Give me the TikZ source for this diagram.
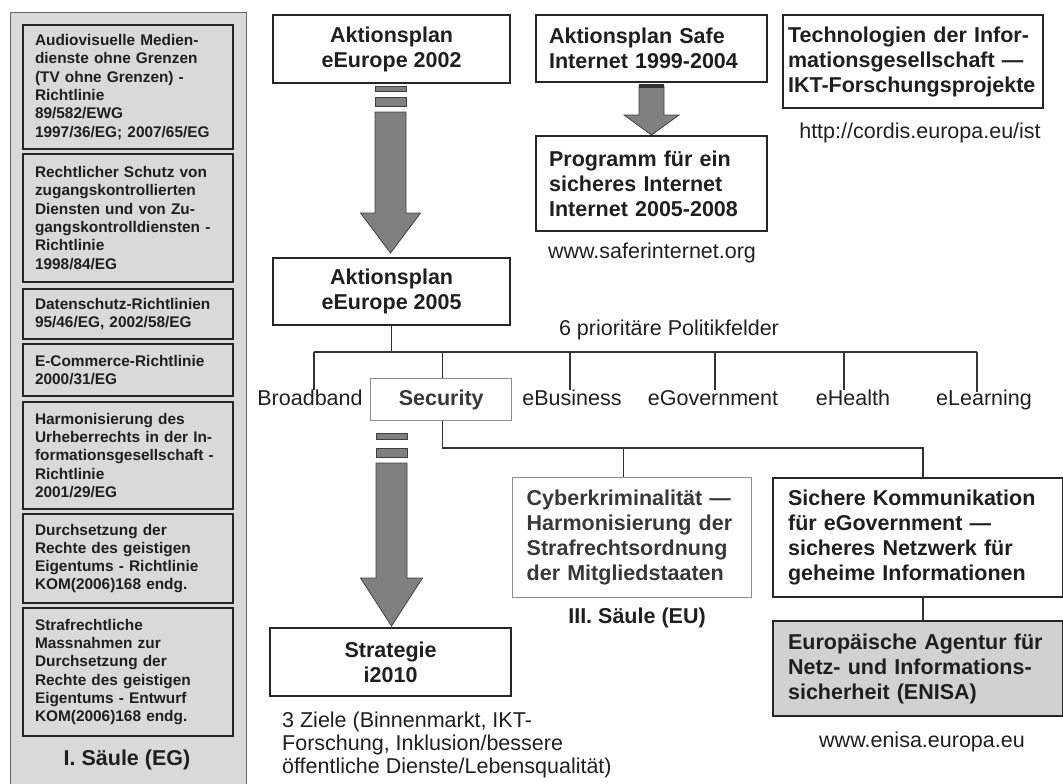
\documentclass[tikz,border=0pt]{standalone}
\usepackage{fontspec}
\setmainfont{Liberation Sans}
\begin{document}
\begin{tikzpicture}[x=1pt,y=-1pt,
  every node/.style={text=black!88},
  bigfont/.style={font=\bfseries\fontsize{21.5}{25}\selectfont},
  regfont/.style={font=\fontsize{21.5}{23}\selectfont},
  lawbox/.style={draw=black!85, line width=2, anchor=north west, minimum width=210,
    text width=186, inner xsep=12, inner ysep=2, align=left,
    font=\bfseries\fontsize{15.4}{18.3}\selectfont},
  cbox/.style={draw=black!85, line width=2.2, fill=white, bigfont, anchor=north west,
    align=center, inner sep=2},
  lbox/.style={draw=black!85, line width=2.2, fill=white, bigfont, anchor=north west,
    align=left, inner ysep=2},
  graybox/.style={draw=black!45, line width=1.4, fill=white, bigfont, anchor=north west,
    text=black!78},
  field/.style={regfont, text height=15.5, text depth=4.5, inner sep=2},
  conn/.style={draw=black!80, line width=1.4},
  arrowfill/.style={fill=black!50, draw=black!75, line width=0.8},
]
\useasboundingbox (0,0) rectangle (1063,784);

% left panel (I. Saeule)
\fill[black!15] (10,12) rectangle (246,784);
\draw[black!60, line width=0.8] (10,784) -- (10,12) -- (246,12) -- (246,784);

\node[lawbox, minimum height=124] (l1) at (22,24) {Audiovisuelle Medien-\\dienste ohne Grenzen\\(TV ohne Grenzen) -\\Richtlinie\\89/582/EWG\\1997/36/EG; 2007/65/EG};
\node[lawbox, minimum height=128] (l2) at (22,153) {Rechtlicher Schutz von\\zugangskontrollierten\\Diensten und von Zu-\\gangskontrolldiensten -\\Richtlinie\\1998/84/EG};
\node[lawbox, minimum height=50] (l3) at (22,288) {Datenschutz-Richtlinien\\95/46/EG, 2002/58/EG};
\node[lawbox, minimum height=52] (l4) at (22,343) {E-Commerce-Richtlinie\\2000/31/EG};
\node[lawbox, minimum height=107] (l5) at (22,401) {Harmonisierung des\\Urheberrechts in der In-\\formationsgesellschaft -\\Richtlinie\\2001/29/EG};
\node[lawbox, minimum height=89] (l6) at (22,513) {Durchsetzung der\\Rechte des geistigen\\Eigentums - Richtlinie\\KOM(2006)168 endg.};
\node[lawbox, minimum height=128] (l7) at (22,607) {Strafrechtliche\\Massnahmen zur\\Durchsetzung der\\Rechte des geistigen\\Eigentums - Entwurf\\KOM(2006)168 endg.};
\node[bigfont] (saeule1) at (127,760) {I. Säule (EG)};

% top row
\node[cbox, minimum width=237, minimum height=68] (e2002) at (272,14) {Aktionsplan\\eEurope 2002};
\node[lbox, minimum width=231, minimum height=67, text width=205, inner xsep=13] (safe) at (535,14) {Aktionsplan Safe\\Internet 1999-2004};
\node[lbox, minimum width=231, minimum height=95, text width=205, inner xsep=13] (prog) at (535,135) {Programm für ein\\sicheres Internet\\Internet 2005-2008};
\node[regfont] (safeurl) at (652,253) {www.saferinternet.org};
\node[lbox, minimum width=260, minimum height=93, text width=250, inner xsep=5] (tech) at (782,14) {Technologien der Infor-\\mationsgesellschaft —\\IKT-Forschungsprojekte};
\node[regfont] (cordis) at (920,133) {http://cordis.europa.eu/ist};

% eEurope 2005
\node[cbox, minimum width=237, minimum height=67] (e2005) at (272,257) {Aktionsplan\\eEurope 2005};
\node[regfont] (prio) at (669,330) {6 prioritäre Politikfelder};

\node[field] (bb) at (310,400) {Broadband};
\node[graybox, minimum width=141, minimum height=42, inner sep=0] (sec) at (370,378) {Security};
\node[field] (ebus) at (572,400) {eBusiness};
\node[field] (egov) at (713,400) {eGovernment};
\node[field] (ehealth) at (853,400) {eHealth};
\node[field] (elearn) at (984,400) {eLearning};

% bus
\coordinate (bus) at (0,352);
\draw[conn] (e2005.south) -- (e2005.south |- bus);
\draw[conn] ([xshift=4]bb.north |- bus) -- ([xshift=-7]elearn.north |- bus);
\draw[conn] ([xshift=4]bb.north |- bus) -- ([xshift=4,yshift=-2]bb.north);
\draw[conn] ([xshift=1.5]sec.north |- bus) -- ([xshift=1.5]sec.north);
\draw[conn] ([xshift=-2]ebus.north |- bus) -- ([xshift=-2,yshift=-2]ebus.north);
\draw[conn] ([xshift=2]egov.north |- bus) -- ([xshift=2,yshift=-2]egov.north);
\draw[conn] ([xshift=-9]ehealth.north |- bus) -- ([xshift=-9,yshift=-2]ehealth.north);
\draw[conn] ([xshift=-7]elearn.north |- bus) -- ([xshift=-7,yshift=-4]elearn.north);

% lower right
\node[graybox, minimum width=239, minimum height=120, text width=211, inner xsep=14, inner ysep=2, align=left] (cyber) at (512,477) {Cyberkriminalität —\\Harmonisierung der\\Strafrechtsordnung\\der Mitgliedstaaten};
\node[bigfont] (saeule3) at (637,618) {III. Säule (EU)};
\node[lbox, minimum width=290, minimum height=119, text width=260, inner xsep=15] (sich) at (772,477) {Sichere Kommunikation\\für eGovernment —\\sicheres Netzwerk für\\geheime Informationen};
\node[lbox, fill=black!18, minimum width=290, minimum height=95, text width=260, inner xsep=15] (enisa) at (772,620) {Europäische Agentur für\\Netz- und Informations-\\sicherheit (ENISA)};
\node[regfont] (enisaurl) at (922,742) {www.enisa.europa.eu};

\coordinate (bus2) at (0,448);
\draw[conn] ([xshift=1.5]sec.south) -- ([xshift=1.5]sec.south |- bus2) -- ([xshift=5]sich.north |- bus2) -- ([xshift=5]sich.north);
\draw[conn] ([xshift=-8.5]cyber.north |- bus2) -- ([xshift=-8.5]cyber.north);
\draw[conn] ([xshift=5]sich.south) -- ([xshift=5]enisa.north);

% Strategie
\node[cbox, minimum width=241, minimum height=68] (strat) at (269,627) {Strategie\\i2010};
\node[regfont, anchor=west, align=left, inner sep=0] (ziele) at (282,745) {3 Ziele (Binnenmarkt, IKT-\\Forschung, Inklusion/bessere\\öffentliche Dienste/Lebensqualität)};

% fat arrows
\newcommand{\FatArrow}[6]{%
  \filldraw[arrowfill] ({#1-#2},#4) -- ({#1+#2},#4) -- ({#1+#2},#5) -- ({#1+#3},#5)
    -- (#1,#6) -- ({#1-#3},#5) -- ({#1-#2},#5) -- cycle;}
% eEurope 2002 -> eEurope 2005
\filldraw[arrowfill] (375,86) rectangle (406,91);
\filldraw[arrowfill] (375,97) rectangle (406,106);
\FatArrow{390.5}{15.5}{30}{112}{213}{253}
% Safe -> Programm
\FatArrow{651.5}{12.5}{27.5}{86}{115}{135}
\fill[black!80] (639,84) rectangle (664,88);
% Security -> Strategie
\filldraw[arrowfill] (376,433) rectangle (407,439);
\filldraw[arrowfill] (376,448) rectangle (407,457);
\FatArrow{391.5}{15.5}{31}{463}{578}{626}
\end{tikzpicture}
\end{document}
